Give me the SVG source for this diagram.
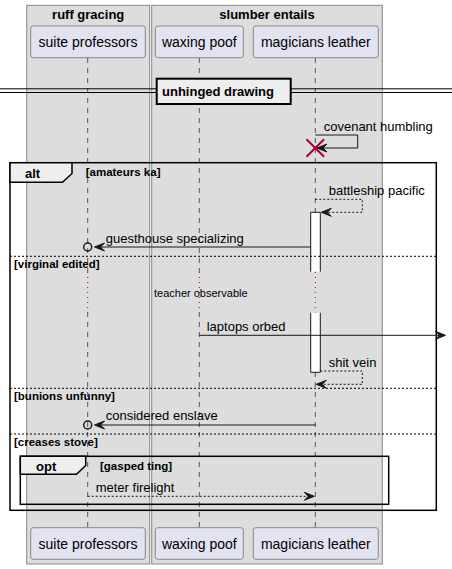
<svg xmlns="http://www.w3.org/2000/svg" width="452" height="569" viewBox="0 0 452 569">
<defs>
<style>
text{font-family:"Liberation Sans",Arial,sans-serif;fill:#000}
.box{fill:#DDDDDD;stroke:#888888;stroke-width:1}
.bt{font-size:13px;font-weight:bold;text-anchor:middle}
.part{fill:#E2E2F0;stroke:#888888;stroke-width:1}
.pt{font-size:14px;text-anchor:middle}
.life{stroke:#555555;stroke-width:1;stroke-dasharray:5,5;fill:none}
.delay{stroke:#A80036;stroke-width:1;stroke-dasharray:1,4;fill:none}
.msg{font-size:13px}
.sol{stroke:#181818;stroke-width:1;fill:none}
.dsh{stroke:#181818;stroke-width:1;fill:none;stroke-dasharray:2,2}
.ah{fill:#181818;stroke:#181818;stroke-width:1}
.frame{fill:none;stroke:#000;stroke-width:1.5}
.tab{fill:#EEEEEE;stroke:#000;stroke-width:1.5}
.ft{font-size:13px;font-weight:bold}
.guard{font-size:11.5px;font-weight:bold}
.sep{stroke:#000;stroke-width:1;stroke-dasharray:2,2}
.act{fill:#FFFFFF;stroke:none}
</style>
</defs>
<rect width="452" height="569" fill="#FFFFFF"/>
<g id="box-ruff-gracing">
<rect class="box" x="26.7" y="5.3" width="123" height="558.7"/>
<text class="bt" x="88.2" y="19">ruff gracing</text>
</g>
<g id="box-slumber-entails">
<rect class="box" x="151.7" y="5.3" width="230.6" height="558.7"/>
<text class="bt" x="267" y="19">slumber entails</text>
</g>
<g id="lifelines">
<path class="life" d="M87.7,58V272M87.7,312V528"/>
<path class="life" d="M199.3,58V272M199.3,312V528"/>
<path class="life" d="M315.3,58V272M315.3,312V528"/>
<path class="delay" d="M87.7,272V312M199.3,272V312M315.3,272V312"/>
</g>
<g id="p-suite-professors">
<rect class="part" x="30.7" y="26" width="114.6" height="31.7" rx="2.5"/>
<text class="pt" x="88" y="47">suite professors</text>
<rect class="part" x="30.7" y="527.7" width="114.6" height="31.6" rx="2.5"/>
<text class="pt" x="88" y="549">suite professors</text>
</g>
<g id="p-waxing-poof">
<rect class="part" x="155.3" y="26" width="88" height="31.7" rx="2.5"/>
<text class="pt" x="199.3" y="47">waxing poof</text>
<rect class="part" x="155.3" y="527.7" width="88" height="31.6" rx="2.5"/>
<text class="pt" x="199.3" y="549">waxing poof</text>
</g>
<g id="p-magicians-leather">
<rect class="part" x="253.3" y="26" width="125" height="31.7" rx="2.5"/>
<text class="pt" x="315.8" y="47">magicians leather</text>
<rect class="part" x="253.3" y="527.7" width="125" height="31.6" rx="2.5"/>
<text class="pt" x="315.8" y="549">magicians leather</text>
</g>
<g id="divider-unhinged-drawing">
<line x1="0" y1="88.8" x2="452" y2="88.8" stroke="#000" stroke-width="1"/>
<line x1="0" y1="92.5" x2="452" y2="92.5" stroke="#000" stroke-width="1"/>
<rect x="156.7" y="78.7" width="134" height="25.3" fill="#EEEEEE" stroke="#000" stroke-width="2"/>
<text class="ft" x="162" y="96">unhinged drawing</text>
</g>
<g id="activations">
<rect class="act" x="310.7" y="212.3" width="9.6" height="59.4"/>
<path class="sol" d="M310.7,271.7V212.3H320.3V271.7"/>
<rect class="act" x="310.7" y="312.7" width="9.6" height="59.6"/>
<path class="sol" d="M310.7,312.7V372.3H320.3V312.7"/>
</g>
<g id="frame-alt">
<rect class="frame" x="10" y="162.7" width="426.3" height="347.6"/>
<path class="tab" d="M10,162.7H72V173.5L62.5,182.3H10Z"/>
<text class="ft" x="25" y="178">alt</text>
<text class="guard" x="85.7" y="176">[amateurs ka]</text>
<line class="sep" x1="10" y1="256.3" x2="436.3" y2="256.3"/>
<text class="guard" x="14" y="268">[virginal edited]</text>
<line class="sep" x1="10" y1="388.3" x2="436.3" y2="388.3"/>
<text class="guard" x="14" y="400">[bunions unfunny]</text>
<line class="sep" x1="10" y1="434" x2="436.3" y2="434"/>
<text class="guard" x="14" y="445.5">[creases stove]</text>
</g>
<g id="frame-opt">
<rect class="frame" x="20.3" y="456.3" width="368.4" height="48" stroke-width="2"/>
<path class="tab" d="M20.3,456.3H85.7V465.5L76.5,474.3H20.3Z"/>
<text class="ft" x="36" y="470.5">opt</text>
<text class="guard" x="100" y="470">[gasped ting]</text>
</g>
<g id="connectors">
<path class="sol" d="M315.3,135H357.7V148H318"/>
<polygon class="ah" points="317,148 327,144 323,148 327,152"/>
<path d="M306.5,139.2L324.1,156.8M324.1,139.2L306.5,156.8" stroke="#A80036" stroke-width="2" fill="none"/>
<text class="msg" x="323.7" y="131">covenant humbling</text>

<path class="dsh" d="M315.3,199.3H362.3V212.3H322"/>
<polygon class="ah" points="321.3,212.3 331.3,208.3 327.3,212.3 331.3,216.3"/>
<text class="msg" x="328.7" y="195">battleship pacific</text>

<path class="sol" d="M310.7,247H96"/>
<polygon class="ah" points="94.5,247 104.5,243 100.5,247 104.5,251"/>
<circle cx="87.7" cy="247" r="4" fill="none" stroke="#181818" stroke-width="1.5"/>
<text class="msg" x="105.7" y="243">guesthouse specializing</text>

<text x="154" y="296.5" font-size="11px">teacher observable</text>

<path class="sol" d="M199.3,335.3H444"/>
<polygon class="ah" points="445.5,335.3 435.5,331.3 439.5,335.3 435.5,339.3"/>
<text class="msg" x="206.7" y="331">laptops orbed</text>

<path class="dsh" d="M320.3,371H362.3V384.3H317"/>
<polygon class="ah" points="316.3,384.3 326.3,380.3 322.3,384.3 326.3,388.3"/>
<text class="msg" x="328.7" y="366.5">shit vein</text>

<path class="sol" d="M315.3,425H96"/>
<polygon class="ah" points="94.5,425 104.5,421 100.5,425 104.5,429"/>
<circle cx="87.7" cy="425" r="4" fill="none" stroke="#181818" stroke-width="1.5"/>
<text class="msg" x="105.7" y="420">considered enslave</text>

<path class="dsh" d="M87.7,496.3H313"/>
<polygon class="ah" points="314.3,496.3 304.3,492.3 308.3,496.3 304.3,500.3"/>
<text class="msg" x="95.7" y="492">meter firelight</text>
</g>
</svg>
